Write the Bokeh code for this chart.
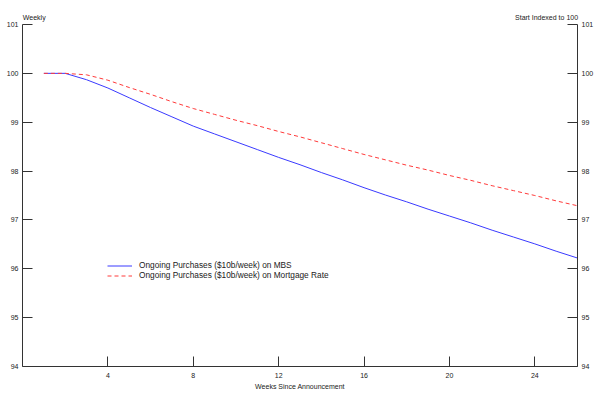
from bokeh.plotting import figure
from bokeh.models import LinearAxis, Range1d, FixedTicker, Legend, LegendItem
from bokeh.embed import file_html
from bokeh.resources import INLINE

weeks = list(range(1, 27))
mbs = [100.00, 100.00, 99.87, 99.70, 99.50, 99.30, 99.11, 98.92, 98.76, 98.60,
       98.44, 98.28, 98.13, 97.97, 97.82, 97.66, 97.51, 97.37, 97.22, 97.08,
       96.94, 96.79, 96.65, 96.51, 96.36, 96.22]
mortgage = [100.00, 100.00, 99.97, 99.86, 99.71, 99.57, 99.42, 99.28, 99.16, 99.04,
            98.93, 98.81, 98.70, 98.58, 98.46, 98.34, 98.23, 98.12, 98.02, 97.91,
            97.81, 97.70, 97.60, 97.50, 97.39, 97.29]
x_ticks = [4, 8, 12, 16, 20, 24]
y_ticks = [94, 95, 96, 97, 98, 99, 100, 101]
top_notes = {0.55: "Weekly", 24.55: "Start Indexed to 100"}

FONT = "Liberation Sans"

p = figure(frame_width=555, frame_height=342, output_backend="svg", toolbar_location=None,
           x_range=Range1d(0, 26), y_range=Range1d(94, 101),
           min_border_left=22, min_border_right=12, min_border_top=24, min_border_bottom=10,
           y_axis_location=None)
p.outline_line_color = None
p.xgrid.visible = False
p.ygrid.visible = False
p.background_fill_color = "white"
p.border_fill_color = "white"

def style_axis(ax):
    ax.major_tick_in = 10
    ax.major_tick_out = 0
    ax.minor_tick_line_color = None
    ax.axis_line_color = "#333333"
    ax.major_tick_line_color = "#333333"
    ax.major_label_text_font = FONT
    ax.major_label_text_font_size = "7px"
    ax.major_label_text_color = "#222222"
    ax.major_label_standoff = 4

xa = p.xaxis[0]
xa.ticker = FixedTicker(ticks=x_ticks)
style_axis(xa)
xa.major_label_standoff = 6
xa.axis_label = "Weeks Since Announcement"
xa.axis_label_text_font = FONT
xa.axis_label_text_font_size = "7px"
xa.axis_label_text_font_style = "normal"
xa.axis_label_text_color = "#222222"
xa.axis_label_standoff = 2

ly = LinearAxis(ticker=FixedTicker(ticks=y_ticks))
style_axis(ly)
p.add_layout(ly, "left")
ry = LinearAxis(ticker=FixedTicker(ticks=y_ticks))
style_axis(ry)
p.add_layout(ry, "right")

# top notes ("Weekly", "Start Indexed to 100") as labels of an invisible top axis
ta = LinearAxis(ticker=FixedTicker(ticks=list(top_notes.keys())),
                major_label_overrides=top_notes)
ta.axis_line_color = None
ta.major_tick_line_color = None
ta.minor_tick_line_color = None
ta.major_tick_in = 0
ta.major_tick_out = 0
ta.major_label_standoff = 4
ta.major_label_text_font = FONT
ta.major_label_text_font_size = "7px"
ta.major_label_text_color = "#222222"
p.add_layout(ta, "above")

r1 = p.line(weeks, mbs, line_color="#3a3aff", line_width=1)
r2 = p.line(weeks, mortgage, line_color="#ff3a3a", line_width=1, line_dash="4 3")

legend = Legend(items=[
    LegendItem(label="Ongoing Purchases ($10b/week) on MBS", renderers=[r1]),
    LegendItem(label="Ongoing Purchases ($10b/week) on Mortgage Rate", renderers=[r2]),
], location=(85, 86))
legend.border_line_color = None
legend.background_fill_alpha = 0
legend.padding = 0
legend.margin = 0
legend.spacing = 0
legend.glyph_width = 25
legend.glyph_height = 9
legend.label_height = 9
legend.label_standoff = 7
legend.label_text_font = FONT
legend.label_text_font_size = "8.3px"
legend.label_text_color = "#222222"
p.add_layout(legend, "center")

open("out.html", "w").write(file_html(p, INLINE))
